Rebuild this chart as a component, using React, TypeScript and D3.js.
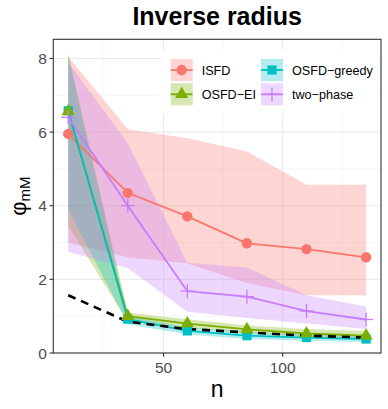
import React from 'react'
import * as d3 from 'd3'

// sample sizes
const nValues = [10, 35, 60, 85, 110, 135]

// ISFD
const isfdMean = [5.95, 4.35, 3.71, 2.98, 2.82, 2.6]
const isfdUpper = [8.05, 6.08, 5.83, 5.47, 4.57, 4.57]
const isfdLower = [3.0, 2.6, 2.43, 1.9, 1.57, 1.57]

// OSFD-EI
const eiMean = [6.56, 1.0, 0.8, 0.64, 0.53, 0.47]
const eiUpper = [8.15, 1.1, 0.92, 0.75, 0.65, 0.6]
const eiLower = [3.45, 0.85, 0.68, 0.54, 0.44, 0.4]

// OSFD-greedy
const greedyMean = [6.58, 0.92, 0.6, 0.47, 0.42, 0.38]
const greedyUpper = [8.05, 1.0, 0.7, 0.58, 0.5, 0.46]
const greedyLower = [3.9, 0.78, 0.5, 0.38, 0.33, 0.3]

// two-phase
const twoPhaseMean = [6.4, 4.0, 1.68, 1.53, 1.14, 0.91]
const twoPhaseUpper = [7.9, 5.7, 2.45, 2.32, 1.57, 1.26]
const twoPhaseLower = [2.75, 2.3, 1.12, 0.95, 0.8, 0.65]

// dashed reference line
const boundValues = [1.57, 0.85, 0.65, 0.56, 0.47, 0.42]

const xTicks = [50, 100]
const xMinor = [25, 75, 125]
const yTicks = [0, 2, 4, 6, 8]
const yMinor = [1, 3, 5, 7]

const W = 388
const H = 409
const panel = { left: 53.3, right: 381, top: 39.3, bottom: 353 }
const font = '"Liberation Sans", Arial, Helvetica, sans-serif'

type Series = {
  name: string
  color: string
  shape: string
  mean: number[]
  upper: number[]
  lower: number[]
}

const series: Series[] = [
  { name: 'ISFD', color: '#F8766D', shape: 'circle', mean: isfdMean, upper: isfdUpper, lower: isfdLower },
  { name: 'OSFD\u2212EI', color: '#7CAE00', shape: 'triangle', mean: eiMean, upper: eiUpper, lower: eiLower },
  { name: 'OSFD\u2212greedy', color: '#00BFC4', shape: 'square', mean: greedyMean, upper: greedyUpper, lower: greedyLower },
  { name: 'two\u2212phase', color: '#C77CFF', shape: 'plus', mean: twoPhaseMean, upper: twoPhaseUpper, lower: twoPhaseLower },
]

function marker(shape: string, color: string, cx: number, cy: number, key: string) {
  if (shape === 'circle') {
    return <circle key={key} cx={cx} cy={cy} r={5.2} fill={color} />
  }
  if (shape === 'square') {
    return <rect key={key} x={cx - 4.6} y={cy - 4.6} width={9.2} height={9.2} fill={color} />
  }
  if (shape === 'triangle') {
    const p = d3.symbol().type(d3.symbolTriangle).size(75)()
    return <path key={key} d={p || ''} transform={`translate(${cx},${cy})`} fill={color} />
  }
  return (
    <g key={key} stroke={color} strokeWidth={1.3}>
      <line x1={cx - 7} x2={cx + 7} y1={cy} y2={cy} />
      <line x1={cx} x2={cx} y1={cy - 7} y2={cy + 7} />
    </g>
  )
}

export default function App() {
  const xScale = d3.scaleLinear().domain([3.75, 141.25]).range([panel.left, panel.right])
  const yScale = d3.scaleLinear().domain([0, 8.52]).range([panel.bottom, panel.top])

  const area = (s: Series) =>
    d3.area<number>()
      .x((_, i) => xScale(nValues[i]))
      .y0((_, i) => yScale(s.lower[i]))
      .y1((_, i) => yScale(s.upper[i]))(s.mean) || ''

  const line = d3.line<number>()
    .x((_, i) => xScale(nValues[i]))
    .y(d => yScale(d))

  // draw order for markers: teal under green
  const pointOrder = [0, 2, 1, 3]

  const legendX = [170.7, 261]
  const legendY = [59, 83.3]

  return (
    <svg width={W} height={H} style={{ position: 'absolute', left: 0, top: 0 }} fontFamily={font}>
      <rect width={W} height={H} fill='white' />

      {/* grid */}
      {xMinor.map(v => (
        <line key={'xm' + v} x1={xScale(v)} x2={xScale(v)} y1={panel.top} y2={panel.bottom} stroke='#F2F2F2' strokeWidth={0.7} />
      ))}
      {yMinor.map(v => (
        <line key={'ym' + v} x1={panel.left} x2={panel.right} y1={yScale(v)} y2={yScale(v)} stroke='#F2F2F2' strokeWidth={0.7} />
      ))}
      {xTicks.map(v => (
        <line key={'xg' + v} x1={xScale(v)} x2={xScale(v)} y1={panel.top} y2={panel.bottom} stroke='#EBEBEB' strokeWidth={1.1} />
      ))}
      {yTicks.map(v => (
        <line key={'yg' + v} x1={panel.left} x2={panel.right} y1={yScale(v)} y2={yScale(v)} stroke='#EBEBEB' strokeWidth={1.1} />
      ))}

      {/* ribbons */}
      {series.map(s => (
        <path key={'rib' + s.name} d={area(s)} fill={s.color} fillOpacity={0.3} />
      ))}

      {/* lines */}
      {series.map(s => (
        <path key={'ln' + s.name} d={line(s.mean) || ''} fill='none' stroke={s.color} strokeWidth={1.8} />
      ))}

      {/* bound */}
      <path d={line(boundValues) || ''} fill='none' stroke='black' strokeWidth={2.6} strokeDasharray='8,6' />

      {/* points */}
      {pointOrder.map(k => {
        const s = series[k]
        return s.mean.map((v, i) => marker(s.shape, s.color, xScale(nValues[i]), yScale(v), s.name + i))
      })}

      {/* legend */}
      <rect x={163} y={50} width={215} height={64} fill='white' />
      {series.map((s, i) => {
        const col = i < 2 ? 0 : 1
        const row = i % 2
        const kx = legendX[col]
        const ky = legendY[row]
        return (
          <g key={'lg' + s.name}>
            <rect x={kx} y={ky} width={22} height={22} fill={s.color} fillOpacity={0.3} />
            <line x1={kx} x2={kx + 22} y1={ky + 11} y2={ky + 11} stroke={s.color} strokeWidth={1.8} />
            {marker(s.shape, s.color, kx + 11, ky + 11, 'lm' + i)}
            <text x={kx + 31} y={ky + 15.5} fontSize={12.6} fill='black'>{s.name}</text>
          </g>
        )
      })}

      {/* panel border */}
      <rect x={panel.left} y={panel.top} width={panel.right - panel.left} height={panel.bottom - panel.top}
        fill='none' stroke='#333333' strokeWidth={1.1} />

      {/* axes */}
      {yTicks.map(v => (
        <g key={'yt' + v}>
          <line x1={panel.left - 3.7} x2={panel.left} y1={yScale(v)} y2={yScale(v)} stroke='#333333' strokeWidth={1.1} />
          <text x={panel.left - 6.5} y={yScale(v) + 5.6} textAnchor='end' fontSize={15.5} fill='#4D4D4D'>{v}</text>
        </g>
      ))}
      {xTicks.map(v => (
        <g key={'xt' + v}>
          <line x1={xScale(v)} x2={xScale(v)} y1={panel.bottom} y2={panel.bottom + 3.7} stroke='#333333' strokeWidth={1.1} />
          <text x={xScale(v)} y={panel.bottom + 19.5} textAnchor='middle' fontSize={15.5} fill='#4D4D4D'>{v}</text>
        </g>
      ))}

      {/* titles */}
      <text x={(panel.left + panel.right) / 2} y={25} textAnchor='middle' fontSize={25} fontWeight='bold' fill='black'>
        Inverse radius
      </text>
      <text x={(panel.left + panel.right) / 2} y={396.5} textAnchor='middle' fontSize={23} fill='black'>n</text>
      <text transform={`translate(26,${(panel.top + panel.bottom) / 2}) rotate(-90)`} textAnchor='middle' fontSize={22} fill='black'>
        φ<tspan fontSize={15} dy={4}>mM</tspan>
      </text>
    </svg>
  )
}
